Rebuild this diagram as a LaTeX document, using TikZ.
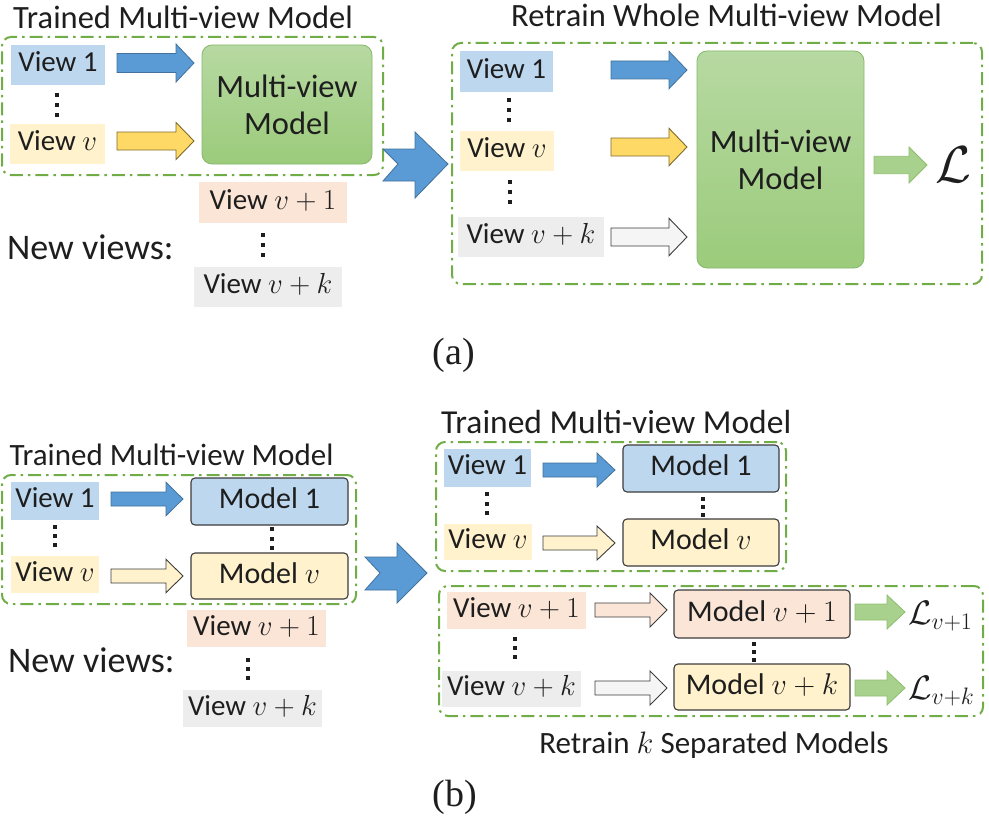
\RequirePackage{fix-cm}
\documentclass[tikz,border=0pt]{standalone}
\usepackage{fontspec}
\setmainfont{Carlito}
\newfontfamily\capfont{Liberation Serif}
\definecolor{txt}{HTML}{1E1E1E}
\definecolor{dgreen}{HTML}{70AD47}
\definecolor{vblue}{HTML}{BDD7EE}
\definecolor{vyel}{HTML}{FFF2CC}
\definecolor{vpeach}{HTML}{FBE5D6}
\definecolor{vgray}{HTML}{EDEDED}
\definecolor{ablue}{HTML}{5B9BD5}
\definecolor{abluedk}{HTML}{41719C}
\definecolor{ayel}{HTML}{FFD966}
\definecolor{ayeldk}{HTML}{7F6A2A}
\definecolor{agreen}{HTML}{A9D18E}
\definecolor{agreendk}{HTML}{8DBE6E}
\definecolor{mgtop}{HTML}{B7D9A2}
\definecolor{mgbot}{HTML}{9BCB7B}
\definecolor{mgdk}{HTML}{86B86A}
\definecolor{bdk}{HTML}{3C3C3C}
\newcommand{\blkarrow}[7][]{\draw[#1] (#2,{#4-#6}) -- (#5,{#4-#6}) -- (#5,{#4-#7}) -- (#3,#4) -- (#5,{#4+#7}) -- (#5,{#4+#6}) -- (#2,{#4+#6}) -- cycle;}
\newcommand{\vdts}[3]{\foreach \k in {0,1,2} {\fill[txt] ({#1-2},{#2+\k*(#3-#2-4)/2}) rectangle ++(4,4);}}
\begin{document}
\begin{tikzpicture}[x=1pt,y=-1pt,
  every node/.style={text=txt},
  grp/.style={draw=dgreen, line width=2, dash pattern=on 13pt off 5pt on 2.5pt off 5pt, rounded corners=9, inner sep=0},
  lab/.style={inner sep=0, font=\fontsize{29}{30}\selectfont, text height=19, text depth=6},
  titl/.style={inner sep=0, font=\fontsize{32.5}{34}\selectfont},
  mgbox/.style={draw=mgdk, line width=0.8, rounded corners=10, top color=mgtop, bottom color=mgbot, inner sep=0, align=center, font=\fontsize{32.5}{37}\selectfont},
  mbox/.style={draw=bdk, line width=1.1, rounded corners=4, inner sep=0, font=\fontsize{30}{32}\selectfont, text height=20, text depth=6},
  barrow/.style={fill=ablue, draw=abluedk, line width=0.8},
  yarrow/.style={fill=ayel, draw=ayeldk, line width=0.9},
  warrow/.style={fill=gray!8, draw=bdk, line width=0.9},
  lyarrow/.style={fill=vyel, draw=bdk, line width=0.9},
  parrow/.style={fill=vpeach, draw=bdk, line width=0.9},
  garrow/.style={fill=agreen, draw=agreendk, line width=0.8},
  bigarrow/.style={fill=ablue, draw=abluedk, line width=0.8},
  ]
\useasboundingbox (0,0) rectangle (989,816);

% ================= (a) left =================
\node[titl] (tA1) at (183,17) {Trained Multi-view Model};
\node[grp, minimum width=381, minimum height=138] (gA1) at (192.5,106) {};
\node[lab, fill=vblue, minimum width=94, minimum height=40] (a1v1) at (58,65) {View 1};
\vdts{57}{93}{117}
\node[lab, fill=vyel, minimum width=95, minimum height=40] (a1vv) at (57.5,144) {View $v$};
\node[mgbox, minimum width=170, minimum height=119] (a1m) at (287,104.5) {Multi-view\\Model};
\blkarrow[barrow]{117}{194}{63}{176}{9.5}{19}
\blkarrow[yarrow]{117}{194}{141}{176}{9}{18.5}
\node[lab, fill=vpeach, minimum width=148, minimum height=41] (a1n1) at (273,202.5) {View $v+1$};
\vdts{263}{233}{257}
\node[lab, fill=vgray, minimum width=148, minimum height=40] (a1nk) at (268,287) {View $v+k$};
\node[inner sep=0, anchor=west, font=\fontsize{36}{38}\selectfont] (a1new) at (7,247) {New views:};

% big arrow (a)
\draw[bigarrow] (383,149) -- (415,149) -- (415,132) -- (448,164) -- (415,198) -- (415,181) -- (383,181) -- (398,164) -- cycle;

% ================= (a) right =================
\node[titl] (tA2) at (726.5,15) {Retrain Whole Multi-view Model};
\node[grp, minimum width=530, minimum height=241] (gA2) at (717,163.5) {};
\node[lab, fill=vblue, minimum width=93, minimum height=41] (a2v1) at (506.5,71.5) {View 1};
\vdts{509}{98}{122}
\node[lab, fill=vyel, minimum width=94, minimum height=40] (a2vv) at (507,151) {View $v$};
\vdts{510}{180}{204}
\node[lab, fill=vgray, minimum width=146, minimum height=40] (a2vk) at (531,237) {View $v+k$};
\blkarrow[barrow]{611}{687}{70}{669}{9}{18.7}
\blkarrow[yarrow]{611}{687}{147}{669}{9}{18.7}
\blkarrow[warrow]{611}{687}{237}{669}{9}{18.7}
\node[mgbox, minimum width=167, minimum height=217] (a2m) at (780.5,159.5) {Multi-view\\Model};
\blkarrow[garrow]{874}{927}{165}{909}{8.7}{18}
\node[inner sep=0, font=\fontsize{52}{54}\selectfont] (a2L) at (953,165) {$\mathcal{L}$};

\node[inner sep=0, font=\capfont\fontsize{38}{40}\selectfont] (capa) at (454,355) {(a)};

% ================= (b) left =================
\node[inner sep=0, font=\fontsize{31}{33}\selectfont] (tB1) at (171.5,455) {Trained Multi-view Model};
\node[grp, minimum width=354, minimum height=129] (gB1) at (179,539.5) {};
\node[lab, fill=vblue, minimum width=88, minimum height=38] (b1v1) at (55,501) {View 1};
\vdts{55}{525}{547}
\node[lab, fill=vyel, minimum width=88, minimum height=37] (b1vv) at (55,574.5) {View $v$};
\blkarrow[barrow]{111}{183}{499}{166}{7}{16.7}
\blkarrow[lyarrow]{111}{183}{576}{166}{7}{16.7}
\node[mbox, fill=vblue, minimum width=157, minimum height=47] (b1m1) at (269.5,501.5) {Model 1};
\vdts{272}{527}{550}
\node[mbox, fill=vyel, minimum width=157, minimum height=46] (b1mv) at (269.5,576) {Model $v$};
\node[lab, fill=vpeach, minimum width=139, minimum height=37] (b1n1) at (256.5,628.5) {View $v+1$};
\vdts{248}{658}{680}
\node[lab, fill=vgray, minimum width=139, minimum height=37] (b1nk) at (252.5,708.5) {View $v+k$};
\node[inner sep=0, anchor=west, font=\fontsize{36}{38}\selectfont] (b1new) at (8,660) {New views:};

% big arrow (b)
\draw[bigarrow] (365,557) -- (397,557) -- (397,543) -- (427,573) -- (397,603) -- (397,590) -- (365,590) -- (380,573) -- cycle;

% ================= (b) right top =================
\node[inner sep=0, anchor=west, font=\fontsize{33.5}{35}\selectfont] (tB2) at (441,422) {Trained Multi-view Model};
\node[grp, minimum width=350, minimum height=129] (gB2) at (611,506.5) {};
\node[lab, fill=vblue, minimum width=87, minimum height=38] (b2v1) at (487.5,468) {View 1};
\vdts{487}{492}{515}
\node[lab, fill=vyel, minimum width=88, minimum height=36] (b2vv) at (488,542) {View $v$};
\blkarrow[barrow]{543}{615}{470}{597}{7}{17}
\blkarrow[lyarrow]{543}{615}{543}{597}{7}{17}
\node[mbox, fill=vblue, minimum width=156, minimum height=47] (b2m1) at (701,468.5) {Model 1};
\vdts{703}{497}{517}
\node[mbox, fill=vyel, minimum width=156, minimum height=47] (b2mv) at (701,542.5) {Model $v$};

% ================= (b) right bottom =================
\node[grp, minimum width=544, minimum height=130] (gB3) at (711,651) {};
\node[lab, fill=vpeach, minimum width=139, minimum height=37] (b3n1) at (516.5,610.5) {View $v+1$};
\vdts{515}{637}{659}
\node[lab, fill=vgray, minimum width=139, minimum height=36] (b3nk) at (511.5,689) {View $v+k$};
\blkarrow[parrow]{595}{667}{610}{650}{7}{17}
\blkarrow[warrow]{595}{667}{688}{650}{7}{17}
\node[mbox, fill=vpeach, minimum width=176, minimum height=48] (b3m1) at (762,614) {Model $v+1$};
\vdts{754}{642}{662}
\node[mbox, fill=vyel, minimum width=176, minimum height=46] (b3mk) at (762,687) {Model $v+k$};
\blkarrow[garrow]{855}{905}{612}{887}{8}{17}
\blkarrow[garrow]{855}{905}{688}{887}{8}{17}
\node[inner sep=0, anchor=west, font=\fontsize{34}{36}\selectfont] (b3L1) at (908,616) {$\mathcal{L}_{v+1}$};
\node[inner sep=0, anchor=west, font=\fontsize{34}{36}\selectfont] (b3Lk) at (908,691) {$\mathcal{L}_{v+k}$};
\node[inner sep=0, font=\fontsize{31}{33}\selectfont] (capB2) at (714,745) {Retrain $k$ Separated Models};

\node[inner sep=0, font=\capfont\fontsize{38}{40}\selectfont] (capb) at (455,797) {(b)};
\end{tikzpicture}
\end{document}
